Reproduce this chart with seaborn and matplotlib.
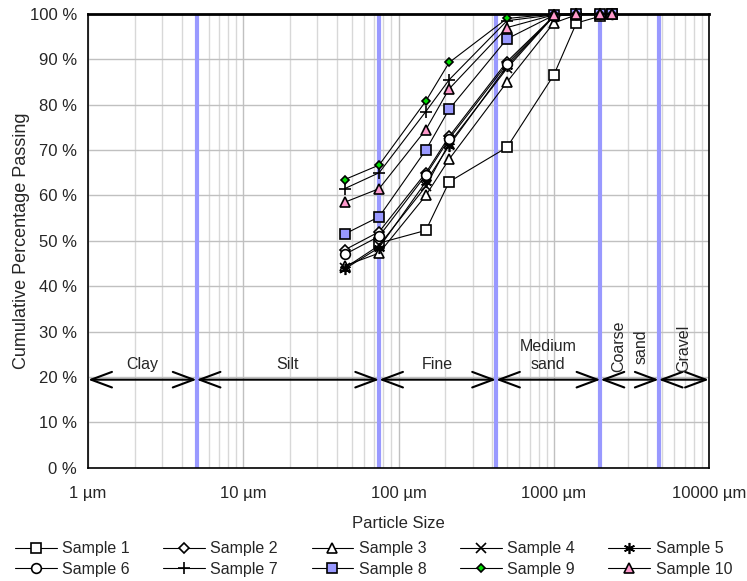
import numpy as np
import pandas as pd
import matplotlib
matplotlib.use('Agg')
import matplotlib.pyplot as plt
import seaborn as sns
from matplotlib.ticker import FixedLocator, LogLocator, NullFormatter

sns.set_style('white')
plt.rcParams['font.family'] = ['Liberation Sans', 'DejaVu Sans']

# sieve sizes (µm) and cumulative passing (%)
sizes = [45, 75, 150, 212, 500, 1000, 1400, 2000, 2360]
s1 = [np.nan, 49.5, 52.3, 63.0, 70.6, 86.5, 98.0, 99.5, 100]
s2 = [48.0, 52.0, 65.0, 73.0, 89.5, 99.5, 100, 100, 100]
s3 = [44.5, 47.3, 60.0, 68.0, 85.0, 98.0, 99.8, 100, 100]
s4 = [44.0, 49.0, 62.0, 71.5, 88.0, 99.5, 100, 100, 100]
s5 = [43.8, 48.5, 63.0, 71.0, 88.5, 99.5, 100, 100, 100]
s6 = [47.0, 51.0, 64.5, 72.5, 89.0, 99.5, 100, 100, 100]
s7 = [61.5, 65.0, 78.5, 85.5, 98.5, 99.8, 100, 100, 100]
s8 = [51.5, 55.3, 70.0, 79.0, 94.5, 99.7, 100, 100, 100]
s9 = [63.5, 66.7, 80.8, 89.3, 99.0, 100, 100, 100, 100]
s10 = [58.5, 61.5, 74.5, 83.5, 97.0, 99.8, 100, 100, 100]
samples = [s1, s2, s3, s4, s5, s6, s7, s8, s9, s10]
names = ['Sample %d' % i for i in range(1, 11)]

# class boundaries (µm) and labels
bounds = [1, 5, 75, 425, 2000, 4750, 10000]
classes = ['Clay', 'Silt', 'Fine', 'Medium\nsand', 'Coarse\nsand', 'Gravel']

asterisk = (6, 2, 0)
styles = [
    dict(marker='s', mfc='white', ms=7),
    dict(marker='D', mfc='white', ms=5.5),
    dict(marker='^', mfc='white', ms=7.5),
    dict(marker='x', mfc='none', ms=6.5),
    dict(marker=asterisk, mfc='none', ms=8),
    dict(marker='o', mfc='white', ms=7),
    dict(marker='+', mfc='none', ms=9),
    dict(marker='s', mfc='#9999ff', ms=6.5),
    dict(marker='D', mfc='#00dd00', ms=4.5),
    dict(marker='^', mfc='#ff99cc', ms=6.5),
]

fig = plt.figure(figsize=(7.47, 5.81), dpi=100)
ax = fig.add_axes([0.118, 0.195, 0.831, 0.781])

for b in bounds[1:-1]:
    ax.axvline(b, color='#9999ff', lw=3, zorder=1)

handles = []
for name, vals, st in zip(names, samples, styles):
    df = pd.DataFrame({'size': sizes, 'pass': vals}).dropna()
    sns.lineplot(data=df, x='size', y='pass', ax=ax, color='black', lw=0.8,
                 marker=st['marker'], markersize=st['ms'], markerfacecolor=st['mfc'],
                 markeredgecolor='black', markeredgewidth=1.2, clip_on=False, zorder=3)
    handles.append(ax.lines[-1])

ax.set_xscale('log')
ax.set_xlim(1, 10000)
ax.set_ylim(0, 100)
ax.xaxis.set_major_locator(FixedLocator([1, 10, 100, 1000, 10000]))
ax.set_xticklabels(['1 µm', '10 µm', '100 µm', '1000 µm', '10000 µm'], fontsize=12)
ax.xaxis.set_minor_locator(LogLocator(base=10, subs=np.arange(2, 10)))
ax.xaxis.set_minor_formatter(NullFormatter())
ax.set_yticks(np.arange(0, 101, 10))
ax.set_yticklabels(['%d %%' % v for v in range(0, 101, 10)], fontsize=12)
ax.grid(which='major', color='#c0c0c0', lw=1, zorder=0)
ax.grid(which='minor', axis='x', color='#d8d8d8', lw=1, zorder=0)
ax.tick_params(axis='y', which='major', direction='out', length=5, width=1, color='black', pad=3)
ax.tick_params(axis='x', which='major', direction='out', length=5, width=1, color='black', pad=8)
ax.tick_params(axis='x', which='minor', direction='out', length=3, width=1, color='black')
for sp in ax.spines.values():
    sp.set_color('black')
    sp.set_linewidth(1.2)
ax.spines['top'].set_linewidth(2)
ax.set_axisbelow(True)

ax.set_xlabel('Particle Size', fontsize=12, labelpad=11)
ax.set_ylabel('Cumulative Percentage Passing', fontsize=13, labelpad=0)

# classification arrows
ya = 19.4
for i, lab in enumerate(classes):
    lo, hi = bounds[i], bounds[i + 1]
    ax.annotate('', xy=(lo, ya), xytext=(hi, ya),
                arrowprops=dict(arrowstyle='<->,head_length=0.75,head_width=0.28',
                                color='black', lw=1.5, mutation_scale=20,
                                shrinkA=0, shrinkB=0), zorder=4)
    xm = np.sqrt(lo * hi)
    if i < 4:
        ax.text(xm, ya + 1.8, lab, ha='center', va='bottom', fontsize=11.5,
                linespacing=1.25, zorder=5)
    else:
        ax.text(xm, ya + 1.6, lab, ha='center', va='bottom', fontsize=11.5,
                rotation=90, linespacing=1.6, zorder=5)

order = [0, 5, 1, 6, 2, 7, 3, 8, 4, 9]
fig.legend([handles[i] for i in order], [names[i] for i in order], ncol=5,
           loc='lower center', bbox_to_anchor=(0.5, -0.018), frameon=False,
           fontsize=11.5, handlelength=2.6, handletextpad=0.35, columnspacing=2.1,
           labelspacing=0.35)

fig.savefig('out.png', dpi=100)
